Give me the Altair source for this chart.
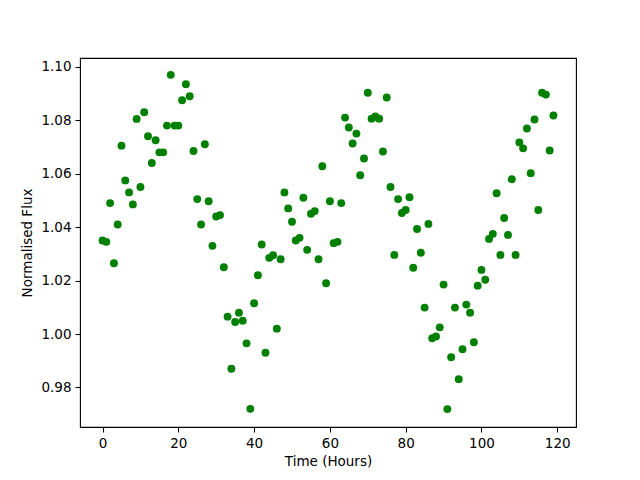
import altair as alt
import pandas as pd

hours = list(range(120))
flux = [
    1.035, 1.0345, 1.049, 1.0265, 1.041, 1.0705, 1.0575, 1.053, 1.0485, 1.0805,
    1.055, 1.083, 1.074, 1.064, 1.0725, 1.068, 1.068, 1.078, 1.097, 1.078,
    1.078, 1.0875, 1.0935, 1.089, 1.0685, 1.0505, 1.041, 1.071, 1.0497, 1.033,
    1.044, 1.0445, 1.025, 1.0065, 0.987, 1.0045, 1.008, 1.005, 0.9965, 0.972,
    1.0115, 1.022, 1.0335, 0.993, 1.0285, 1.0295, 1.002, 1.028, 1.053, 1.047,
    1.042, 1.035, 1.036, 1.051, 1.0315, 1.045, 1.046, 1.028, 1.0628, 1.019,
    1.0497, 1.034, 1.0345, 1.049, 1.081, 1.0773, 1.0713, 1.075, 1.0594, 1.0657,
    1.0903, 1.0806, 1.0814, 1.0806, 1.0683, 1.0885, 1.055, 1.0296, 1.0505, 1.0453,
    1.0464, 1.0512, 1.0248, 1.0393, 1.0304, 1.0099, 1.0412, 0.9984, 0.9991, 1.0025,
    1.0185, 0.9719, 0.9913, 1.0099, 0.9831, 0.9943, 1.011, 1.008, 0.9969, 1.0181,
    1.024, 1.0203, 1.0356, 1.0375, 1.0527, 1.0296, 1.0434, 1.0371, 1.0579, 1.0296,
    1.0717, 1.0695, 1.0769, 1.0602, 1.0803, 1.0464, 1.0903, 1.0896, 1.0687, 1.0818,
]
x_ticks = [0, 20, 40, 60, 80, 100, 120]
y_ticks = [0.98, 1.00, 1.02, 1.04, 1.06, 1.08, 1.10]

df = pd.DataFrame({"hours": hours, "flux": flux})

chart = alt.Chart(df).mark_circle(size=62, color="#008000", opacity=1).encode(
    x=alt.X("hours:Q", title="Time (Hours)",
            scale=alt.Scale(domain=[-5.95, 124.95], nice=False, zero=False),
            axis=alt.Axis(values=x_ticks, format="d")),
    y=alt.Y("flux:Q", title="Normalised Flux",
            scale=alt.Scale(domain=[0.9652, 1.1033], nice=False, zero=False),
            axis=alt.Axis(values=y_ticks, format=".2f")),
).properties(
    width=496, height=369,
    autosize=alt.AutoSizeParams(type="none"),
    padding={"left": 72, "top": 50, "right": 56, "bottom": 45},
).configure_view(
    stroke="black", strokeWidth=1.1
).configure_axis(
    grid=False, domain=False,
    tickColor="black", tickSize=5, tickWidth=1.1,
    labelFont="DejaVu Sans", labelFontSize=13.5, labelColor="black", labelPadding=4,
    titleFont="DejaVu Sans", titleFontSize=13.5, titleFontWeight="normal", titleColor="black",
).configure_axisY(titlePadding=6).configure_axisX(titlePadding=5)

chart.save("out.html", embed_options={"renderer": "svg", "actions": False})
